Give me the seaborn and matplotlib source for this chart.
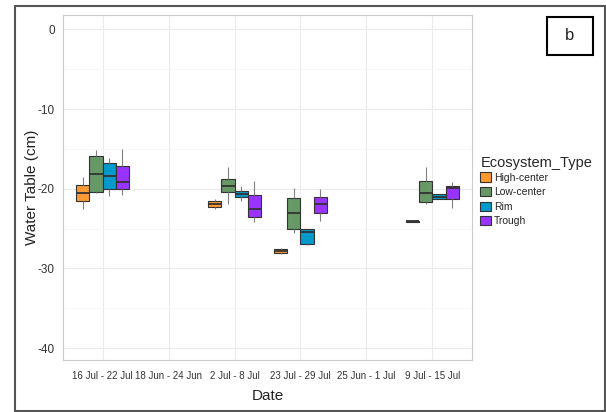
import matplotlib
matplotlib.use("Agg")
import matplotlib.pyplot as plt
from matplotlib.patches import Rectangle
import seaborn as sns
import pandas as pd
import numpy as np

dates = ["16 Jul - 22 Jul", "18 Jun - 24 Jun", "2 Jul - 8 Jul",
         "23 Jul - 29 Jul", "25 Jun - 1 Jul", "9 Jul - 15 Jul"]
types = ["High-center", "Low-center", "Rim", "Trough"]
colors = ["#FF9933", "#669966", "#0099CC", "#9933FF"]

# five readings per group (min, q1, median, q3, max), None = no data
high_center = [[-22.5, -21.6, -20.5, -19.5, -18.5], None,
               [-22.55, -22.35, -21.9, -21.55, -21.3],
               [-28.2, -28.1, -27.8, -27.6, -27.4], None,
               [-24.2, -24.15, -24.1, -24.05, -24.0]]
low_center = [[-20.6, -20.4, -18.2, -15.9, -15.1], None,
              [-21.9, -20.4, -19.6, -18.8, -17.3],
              [-25.6, -25.0, -23.1, -21.2, -19.9], None,
              [-21.9, -21.7, -20.5, -19.0, -17.3]]
rim = [[-20.9, -20.1, -18.45, -16.8, -16.1], None,
       [-21.5, -21.1, -20.7, -20.3, -19.6],
       [-27.1, -27.0, -25.4, -25.1, -25.0], None,
       [-21.3, -21.3, -21.0, -20.7, -20.7]]
trough = [[-20.75, -20.0, -19.2, -17.2, -15.0], None,
          [-24.2, -23.5, -22.5, -20.8, -19.0],
          [-24.0, -23.05, -21.9, -21.05, -20.0], None,
          [-22.4, -21.3, -19.9, -19.6, -19.2]]

series = {"High-center": high_center, "Low-center": low_center,
          "Rim": rim, "Trough": trough}
rows = []
for t, vals in series.items():
    for d, v in zip(dates, vals):
        if v is None:
            continue
        for x in v:
            rows.append({"Date": d, "Ecosystem_Type": t, "Water": x})
df = pd.DataFrame(rows)

sns.set_style("white")
plt.rcParams["font.family"] = ["Liberation Sans", "DejaVu Sans"]

fig = plt.figure(figsize=(6.06, 4.12), dpi=100)
ax = fig.add_axes([63/606, 52/412, 409/606, 345/412])

sns.boxplot(data=df, x="Date", y="Water", hue="Ecosystem_Type",
            order=dates, hue_order=types, palette=colors, saturation=1,
            linecolor="#333333", linewidth=0.8, showcaps=False, whis=3,
            whiskerprops=dict(color="#808080", linewidth=0.8),
            medianprops=dict(color="#333333", linewidth=1.3),
            ax=ax, zorder=3)

ax.set_ylim(-41.5, 1.8)
ax.set_xlim(-0.6, 5.6)
ax.set_yticks([0, -10, -20, -30, -40])
ax.set_yticklabels(["0", "-10", "-20", "-30", "-40"])
ax.set_yticks([-5, -15, -25, -35], minor=True)
ax.grid(True, which="major", color="#EBEBEB", linewidth=0.8, zorder=0)
ax.grid(True, which="minor", axis="y", color="#F4F4F4", linewidth=0.5, zorder=0)
ax.set_axisbelow(True)
for s in ax.spines.values():
    s.set_color("#CCCCCC")
    s.set_linewidth(0.8)
ax.tick_params(axis="both", which="major", length=3, color="#555555",
               labelcolor="#333333", direction="out")
ax.tick_params(axis="x", labelsize=7, pad=5)
ax.tick_params(axis="y", labelsize=8.5, pad=3)
ax.tick_params(axis="both", which="minor", length=0)
ax.set_xlabel("Date", fontsize=11, color="#222222")
ax.set_ylabel("Water Table (cm)", fontsize=11, color="#222222")
ax.xaxis.set_label_coords(0.5, -36/345)
ax.xaxis.label.set_va("center")
ax.yaxis.set_label_coords((32 - 63)/409, 0.5)
ax.yaxis.label.set_va("center")

sns.move_legend(ax, "center left", bbox_to_anchor=(1.005, 0.49),
                frameon=False, title="Ecosystem_Type", fontsize=7.5,
                title_fontsize=10.5, handlelength=1.0, handleheight=1.0,
                labelspacing=0.42, handletextpad=0.3, borderaxespad=0.2)
leg = ax.get_legend()
leg._legend_box.align = "left"
leg._legend_box.sep = 2

fig.patches.append(Rectangle((15/606, 1/412), 590/606, 405/412,
                             transform=fig.transFigure, fill=False,
                             edgecolor="#555555", linewidth=1.5))
fig.patches.append(Rectangle((547/606, 357/412), 46/606, 38/412,
                             transform=fig.transFigure, fill=False,
                             edgecolor="black", linewidth=1.5))
fig.text(570/606, 376/412, "b", fontsize=12, ha="center", va="center",
         color="#222222")

fig.savefig("out.png", dpi=100)
